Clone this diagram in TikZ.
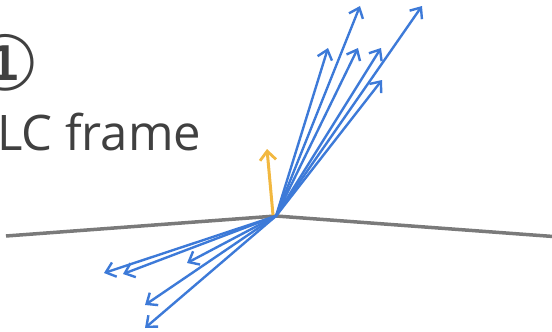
\documentclass[tikz,border=0pt]{standalone}
\usepackage{fontspec}
\setmainfont{Open Sans}
\newfontfamily\symfont{DejaVu Sans}
\usetikzlibrary{arrows.meta}
\definecolor{LcBlue}{HTML}{3D7AD8}
\definecolor{LcYellow}{HTML}{F2B840}
\definecolor{LcGray}{HTML}{7A7A7A}
\definecolor{LcText}{HTML}{404040}

\begin{document}
\begin{tikzpicture}[x=1pt,y=-1pt,
    ray/.style={LcBlue,line width=2.4pt,-{Straight Barb[length=9pt,width=15pt,line width=2.4pt]}},
    normal/.style={LcYellow,line width=3pt,-{Straight Barb[length=9pt,width=16pt,line width=2.8pt]}}]
        \useasboundingbox (0,0) rectangle (552,332);
        % Labels
        \node[LcText,inner sep=0pt,font=\symfont\fontsize{76}{76}\selectfont] (num) at (6,63) {①};
        \node[LcText,anchor=base west,inner sep=0pt,font=\fontsize{49}{49}\selectfont] (title) at (-3,150) {LC frame};
        
        % Surface
        \coordinate (O) at (276,216);
        \coordinate (left) at (6,236);
        \coordinate (right) at (560,237);
        \draw[LcGray,line width=3.5pt] (left) -- (O) -- (right);
        
        % Normal
        \coordinate (n0) at (273,215);
        \coordinate (n) at (267,149);
        \draw[normal] (n0) -- (n);
        
        % Outgoing rays
        \coordinate (u1) at (360,6);
        \coordinate (u2) at (422,6);
        \coordinate (u3) at (328,48);
        \coordinate (u4) at (358,48);
        \coordinate (u5) at (381,48);
        \coordinate (u6) at (382,80);
        \foreach \name in {u1,u2,u3,u4,u5,u6}
          \draw[ray] (O) -- (\name);
        
        % Incoming rays
        \coordinate (d1) at (104,273);
        \coordinate (d2) at (123,274);
        \coordinate (d3) at (187,263);
        \coordinate (d4) at (145,305);
        \coordinate (d5) at (145,328);
        \foreach \name in {d1,d2,d3,d4,d5}
          \draw[ray] (O) -- (\name);
      \end{tikzpicture}
\end{document}
